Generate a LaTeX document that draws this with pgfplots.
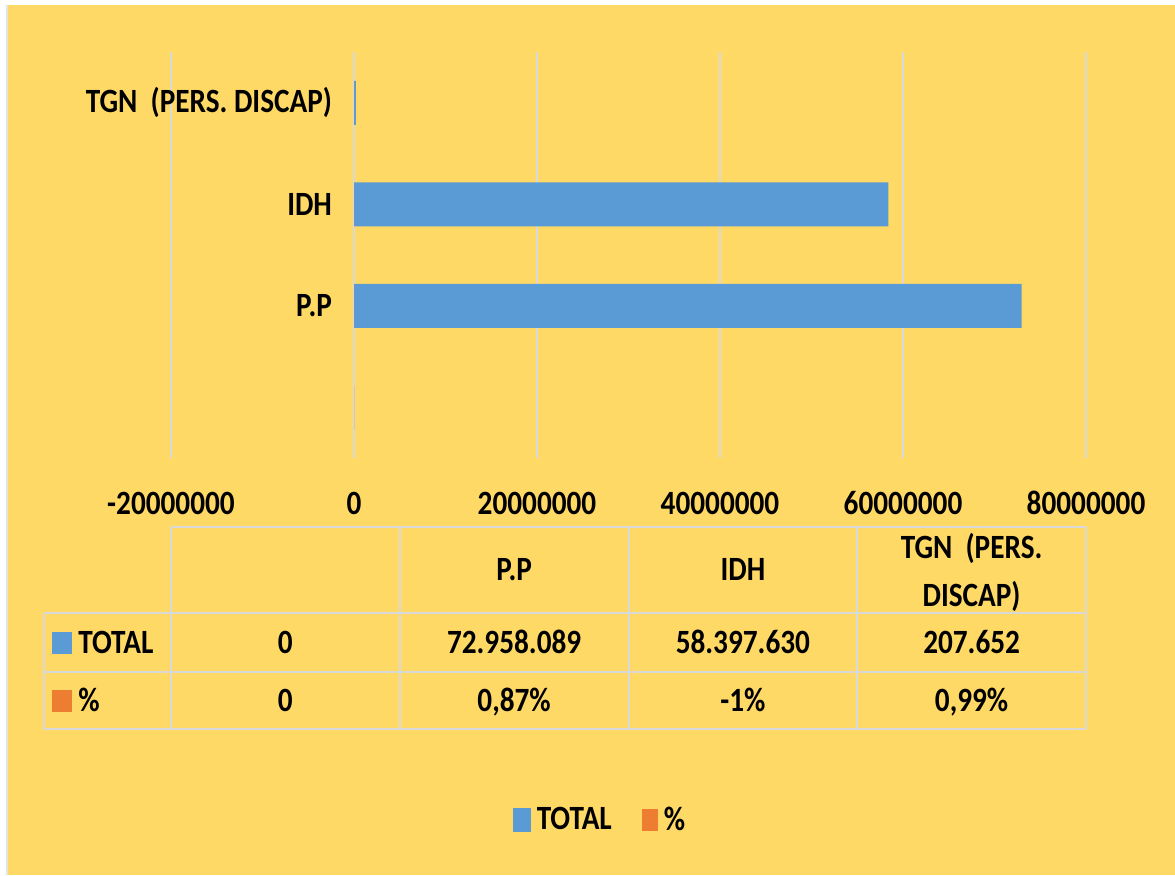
\documentclass[border=0pt]{standalone}
\usepackage{fontspec}
\setmainfont{Carlito}[FakeStretch=0.86]
\usepackage{pgfplots}
\pgfplotsset{compat=1.18}
\definecolor{bgyellow}{HTML}{FFD966}
\definecolor{xlblue}{HTML}{5B9BD5}
\definecolor{xlorange}{HTML}{ED7D31}
\definecolor{gridgray}{HTML}{D9D9D9}

\begin{document}
\begin{tikzpicture}[x=1pt, y=1pt, font=\fontsize{17}{22}\selectfont\bfseries]
% page and chart area
\path[use as bounding box, fill=white] (0,0) rectangle (587.5,437.5);
\fill[bgyellow] (3.5,0) rectangle (587.5,435);
\draw[gridgray!70, line width=0.6pt] (3.5,0) -- (3.5,435);

\begin{axis}[
  at={(85.5pt,208.5pt)}, anchor=south west,
  scale only axis, width=457.5pt, height=203pt,
  xbar, bar width=22pt,
  xmin=-20000000, xmax=80000000,
  ymin=-0.5, ymax=3.5,
  scaled x ticks=false,
  xtick={-20000000,0,20000000,40000000,60000000,80000000},
  xticklabels={-20000000,0,20000000,40000000,60000000,80000000},
  ytick={1,2,3},
  yticklabels={P.P, IDH, TGN\ \ (PERS. DISCAP)},
  xmajorgrids, grid style={draw=gridgray, line width=1pt},
  axis line style={draw=none}, major tick length=0pt,
  xticklabel style={anchor=center, yshift=-22.5pt},
  yticklabel style={anchor=east, xshift=84pt},
  legend style={at={(0.471,-0.8916)}, anchor=center, draw=none, fill=none,
    legend columns=2, nodes={inner sep=3pt},
    /tikz/every even column/.append style={column sep=12pt}},
  clip=false,
]
\addplot[fill=xlblue, draw=none, bar shift=0pt,
  legend image code/.code={\fill[xlblue] (0pt,-6pt) rectangle (9pt,6pt);}]
  coordinates {(0,0) (72958089,1) (58397630,2) (207652,3)};
\addplot[fill=xlorange, draw=none, bar shift=0pt,
  legend image code/.code={\fill[xlorange] (0pt,-5.5pt) rectangle (8pt,5.5pt);}]
  coordinates {(0,0) (0.0087,1) (-0.01,2) (0.0099,3)};
\legend{TOTAL, \%}
\end{axis}

% data table under the axis
\begin{scope}[gridgray, line width=1pt]
  \draw (85.5,174) -- (543,174);
  \foreach \yy in {131,101.5,73} \draw (22,\yy) -- (543,\yy);
  \draw (22,73) -- (22,131);
  \foreach \xx in {85.5,199.875,314.25,428.625,543} \draw (\xx,73) -- (\xx,174);
\end{scope}

\node[anchor=base] at (257.06,147) {P.P};
\node[anchor=base] at (371.44,147) {IDH};
\node[anchor=base] at (485.81,158) {TGN\ \ (PERS.};
\node[anchor=base] at (485.81,134.5) {DISCAP)};

\fill[xlblue] (26,110.5) rectangle (36,121.5);
\node[anchor=base west, inner sep=2pt] at (37,110.75) {TOTAL};
\node[anchor=base] at (142.69,110.75) {0};
\node[anchor=base] at (257.06,110.75) {72.958.089};
\node[anchor=base] at (371.44,110.75) {58.397.630};
\node[anchor=base] at (485.81,110.75) {207.652};

\fill[xlorange] (26,81.5) rectangle (36,92.5);
\node[anchor=base west, inner sep=2pt] at (37,81.75) {\%};
\node[anchor=base] at (142.69,81.75) {0};
\node[anchor=base] at (257.06,81.75) {0,87\%};
\node[anchor=base] at (371.44,81.75) {-1\%};
\node[anchor=base] at (485.81,81.75) {0,99\%};
\end{tikzpicture}
\end{document}
